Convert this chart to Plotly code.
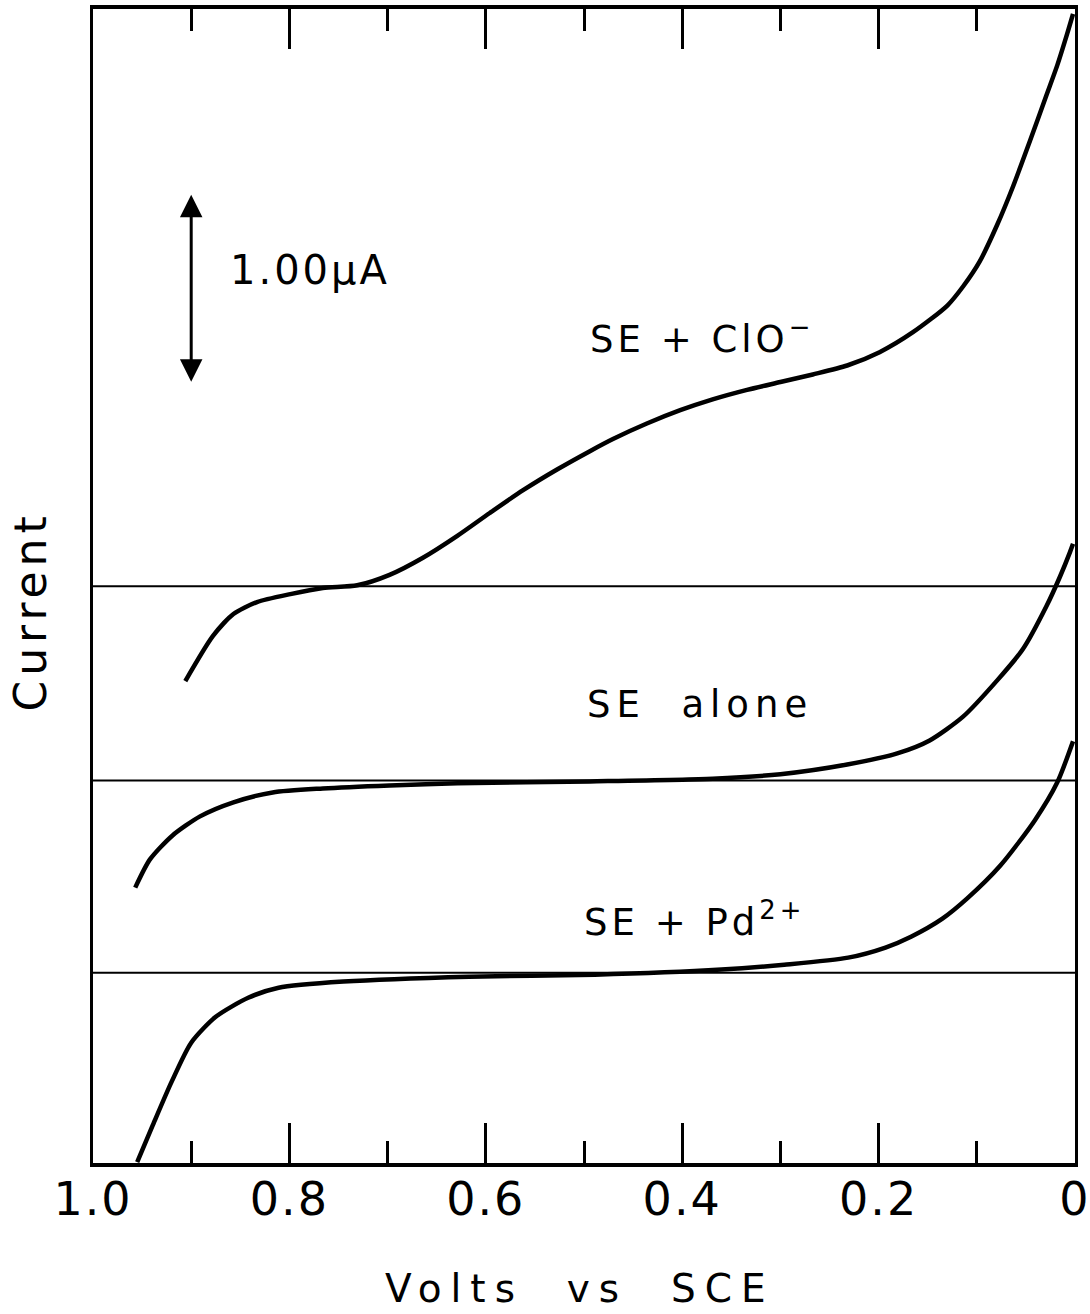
import plotly.graph_objects as go

# ---- data (Volts vs SCE, current in µA) ----
clo_v = [0.906, 0.878, 0.857, 0.833, 0.799, 0.766, 0.731, 0.698, 0.664, 0.629, 0.596, 0.562,
         0.527, 0.494, 0.470, 0.436, 0.402, 0.369, 0.334, 0.300, 0.267, 0.232, 0.199, 0.165,
         0.130, 0.114, 0.097, 0.079, 0.063, 0.046, 0.029, 0.018, 0.008, 0.002]
clo_i = [2.532, 2.768, 2.884, 2.947, 2.989, 3.021, 3.035, 3.090, 3.180, 3.295, 3.415, 3.535,
         3.645, 3.740, 3.805, 3.885, 3.955, 4.012, 4.062, 4.103, 4.143, 4.190, 4.260, 4.365,
         4.505, 4.605, 4.737, 4.932, 5.132, 5.368, 5.611, 5.768, 5.932, 6.037]

alone_v = [0.957, 0.942, 0.919, 0.891, 0.857, 0.817, 0.766, 0.698, 0.629, 0.494, 0.369, 0.300,
           0.232, 0.181, 0.148, 0.114, 0.079, 0.053, 0.029, 0.015, 0.005, 0.002]
alone_i = [1.447, 1.595, 1.721, 1.821, 1.895, 1.947, 1.968, 1.984, 1.995, 2.005, 2.019, 2.043,
           2.094, 2.152, 2.220, 2.345, 2.537, 2.700, 2.926, 3.084, 3.211, 3.253]

pd_v = [0.955, 0.939, 0.920, 0.900, 0.875, 0.842, 0.811, 0.745, 0.617, 0.489, 0.360, 0.296,
        0.231, 0.193, 0.167, 0.135, 0.110, 0.076, 0.041, 0.018, 0.002]
pd_i = [0.005, 0.200, 0.426, 0.632, 0.768, 0.868, 0.921, 0.953, 0.979, 0.989, 1.016, 1.042,
        1.079, 1.132, 1.189, 1.284, 1.389, 1.563, 1.800, 2.000, 2.216]

baselines = [3.03, 2.01, 1.00]
tick_vals = [1.0, 0.8, 0.6, 0.4, 0.2, 0.0]
tick_text = ["1.0", "0.8", "0.6", "0.4", "0.2", "0"]
scale_bar = [4.105, 5.095]  # 1.00 µA bar
x_range = [1.0, 0.0]
y_range = [0.0, 6.063]

FONT = "DejaVu Sans"
fig = go.Figure()

for b in baselines:
    fig.add_trace(go.Scatter(x=[1.0, 0.0], y=[b, b], mode="lines",
                             line=dict(color="black", width=2), hoverinfo="skip"))

for xs, ys in [(clo_v, clo_i), (alone_v, alone_i), (pd_v, pd_i)]:
    fig.add_trace(go.Scatter(x=xs, y=ys, mode="lines",
                             line=dict(color="black", width=4.5, shape="spline", smoothing=0.7),
                             hoverinfo="skip"))

ann = []
# scale arrow
ann.append(dict(x=0.9, y=scale_bar[0], ax=0.9, ay=scale_bar[1], xref="x", yref="y",
                axref="x", ayref="y", text="", showarrow=True, arrowside="end+start",
                arrowhead=2, arrowsize=1.5, arrowwidth=3, arrowcolor="black",
                standoff=0, startstandoff=0))

def lab(text, x, y, size, xanchor="left", yanchor="bottom", xref="x", yref="y", angle=0, ls=4):
    ann.append(dict(text=f'<span style="letter-spacing:{ls}px">{text}</span>', x=x, y=y,
                    xref=xref, yref=yref, xanchor=xanchor, yanchor=yanchor, showarrow=False,
                    textangle=angle, font=dict(family=FONT, size=size, color="black")))

lab("1.00μA", 0.8625, 4.558, 40, ls=3)
lab("SE + ClO<sup>−</sup>", 0.496, 4.205, 37, ls=4)
lab("SE  alone", 0.499, 2.284, 37, ls=6)
lab("SE + Pd<sup>2+</sup>", 0.502, 1.142, 37, ls=4)
lab("Volts  vs  SCE", 0.496, -0.1302, 39, xanchor="center", yanchor="bottom",
    xref="paper", yref="paper", ls=9)
lab("Current", -0.064, 0.478, 44, xanchor="center", yanchor="middle",
    xref="paper", yref="paper", angle=-90, ls=5)

fig.update_layout(
    width=1090, height=1314,
    margin=dict(l=93, r=15, t=9, b=151, autoexpand=False),
    paper_bgcolor="white", plot_bgcolor="white",
    showlegend=False,
    annotations=ann,
    xaxis=dict(range=x_range, showgrid=False, zeroline=False, showline=True, linewidth=4,
               linecolor="black", mirror="ticks", ticks="inside", ticklen=40, tickwidth=2.5,
               tickcolor="black", tickvals=tick_vals,
               ticktext=[f'<span style="letter-spacing:2px">{t}</span>' for t in tick_text],
               tickfont=dict(family=FONT, size=46, color="black"),
               minor=dict(dtick=0.1, tick0=0, ticks="inside", ticklen=22, tickwidth=2.5,
                          tickcolor="black", showgrid=False),
               ticklabelstandoff=-7, ticklabeloverflow="allow", automargin=False),
    yaxis=dict(range=y_range, showgrid=False, zeroline=False, showline=True, linewidth=3,
               linecolor="black", mirror=True, ticks="", showticklabels=False,
               automargin=False),
)

fig.write_html("out.html")
